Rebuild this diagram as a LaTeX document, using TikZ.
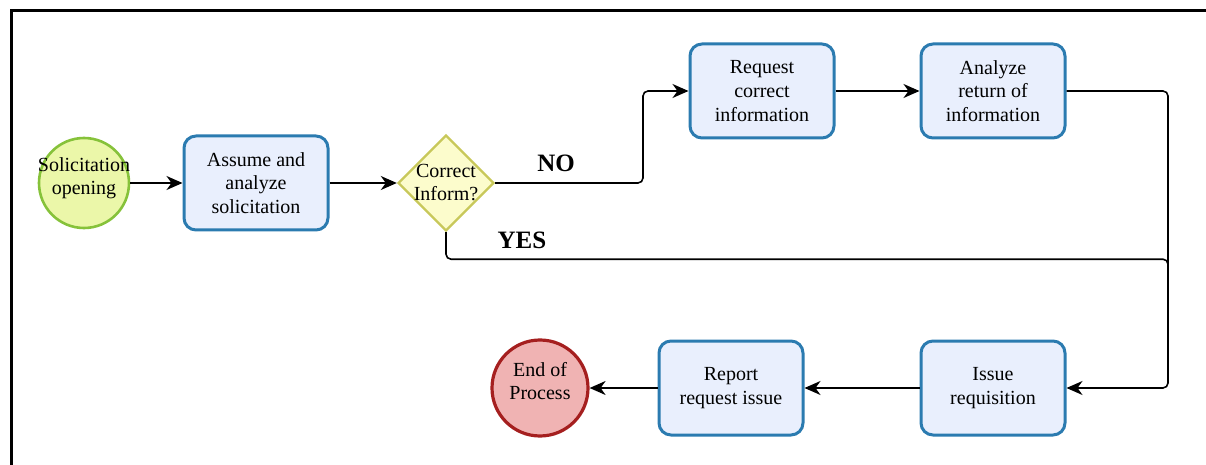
\documentclass[tikz,border=0pt]{standalone}
\usepackage{fontspec}
\setmainfont{Liberation Serif}
\usetikzlibrary{shapes.geometric,arrows.meta}
\definecolor{blockline}{HTML}{2B7BB0}
\definecolor{blockfill}{HTML}{E9EFFD}
\definecolor{startline}{HTML}{86C23A}
\definecolor{startfill}{HTML}{EBF7A9}
\definecolor{endline}{HTML}{A51F1F}
\definecolor{endfill}{HTML}{F0B3B3}
\definecolor{decline}{HTML}{C8C85A}
\definecolor{decfill}{HTML}{FCFCCC}
\tikzstyle{block} = [draw=blockline, fill=blockfill, line width=1.5pt, rectangle, rounded corners=6pt, minimum height=47pt, minimum width=72pt, align=center, font=\fontsize{10}{11.8}\selectfont]
\tikzstyle{startnode} = [draw=startline, fill=startfill, line width=1.3pt, circle, inner sep=-3pt, text depth=7pt, minimum size=45pt, align=center, font=\fontsize{10}{11.5}\selectfont]
\tikzstyle{endnode} = [draw=endline, fill=endfill, line width=1.6pt, circle, inner sep=0pt, text depth=7pt, minimum size=48pt, align=center, font=\fontsize{10}{11.5}\selectfont]
\tikzstyle{decision} = [draw=decline, fill=decfill, line width=1.2pt, diamond, inner sep=-1.5pt, minimum width=48pt, minimum height=48pt, align=center, font=\fontsize{10}{11.5}\selectfont]
\tikzstyle{line} = [draw, line width=0.8pt, rounded corners=2.5pt]
\tikzstyle{lbl} = [font=\fontsize{12.5}{14}\selectfont\bfseries]

\begin{document}
\begin{tikzpicture}[x=0.5pt, y=-0.5pt, >={Stealth[length=8pt,width=7pt,inset=2.5pt]}]
        \useasboundingbox (0,0) rectangle (1206,465);
        \draw[line width=1.5pt] (11,465) -- (11,11) -- (1206,11);
        \node[startnode] (start) at (84,183) {Solicitation\\opening};
        \node[block] (assume) [right of=start, node distance=86pt] {Assume and\\analyze\\solicitation};
        \node[decision] (check) [right of=assume, node distance=95pt] {Correct\\Inform?};
        \node[block] (request) at (762,91) {Request\\correct\\information};
        \node[block] (analyze) [right of=request, node distance=115.5pt] {Analyze\\return of\\information};
        \node[block] (issue) [below of=analyze, node distance=148.5pt] {Issue\\requisition};
        \node[block] (report) [left of=issue, node distance=131pt] {Report\\request issue};
        \node[endnode] (finish) [left of=report, node distance=95.5pt] {End of\\Process};
        \node[lbl] (no) at (556,163) {NO};
        \node[lbl] (yes) at (522,240) {YES};
        \coordinate (nobend) at (643,183);
        \coordinate (yesjoin) at (1168,268);
        \coordinate (rail) at (1168,388);
        \draw[line,->] (start) -- (assume);
        \draw[line,->] (assume) -- (check);
        \draw[line,->] (check.east) -- (nobend) |- (request.west);
        \draw[line,->] (request) -- (analyze);
        \draw[line] (check.south) -- ++(0,27) -| (yesjoin);
        \draw[line,->] (analyze.east) -| (rail) -- (issue.east);
        \draw[line,->] (issue) -- (report);
        \draw[line,->] (report) -- (finish);
    \end{tikzpicture}
\end{document}
